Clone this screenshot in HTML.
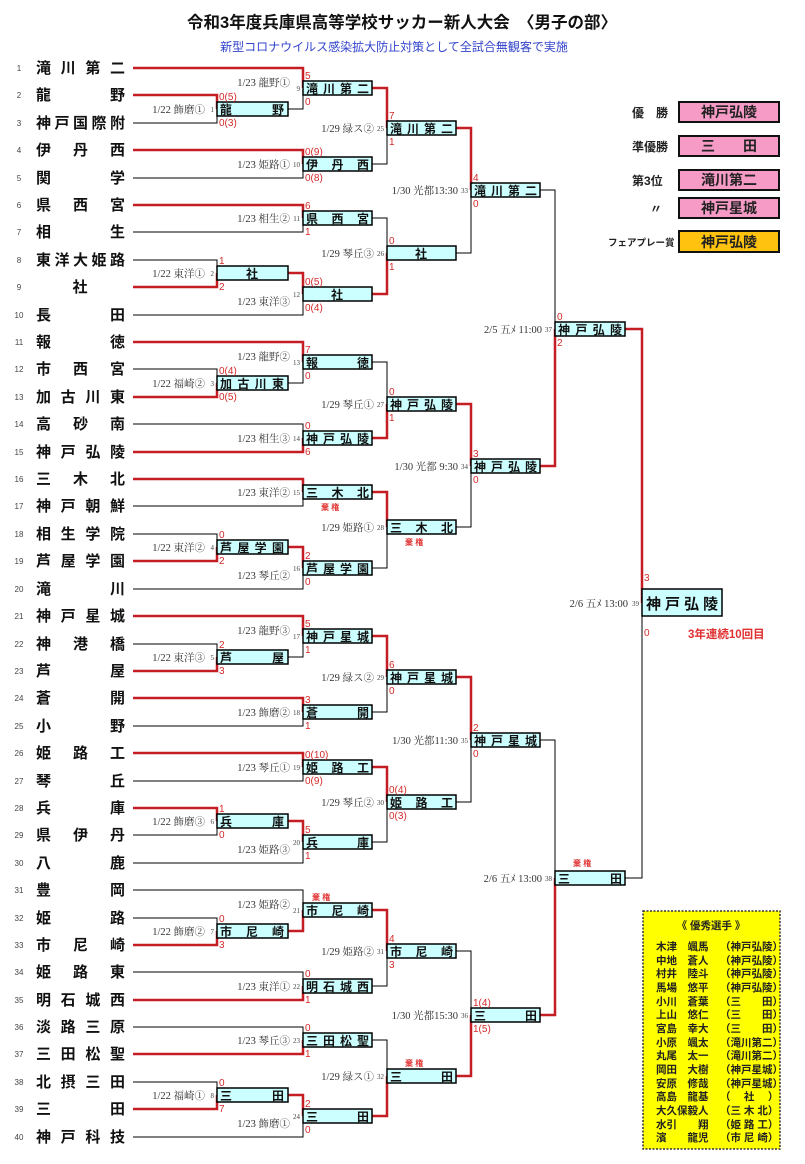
<!DOCTYPE html>
<html><head><meta charset="utf-8"><style>
html,body{margin:0;padding:0;background:#fff;}
svg{display:block;}
.tm{font-family:"Liberation Sans","Noto Sans CJK JP",sans-serif;font-weight:bold;font-size:15px;fill:#111;}
.bx{font-family:"Liberation Sans","Noto Sans CJK JP",sans-serif;font-weight:bold;font-size:12px;fill:#111;}
.no{font-family:"Liberation Sans",sans-serif;font-size:8px;fill:#444;}
.dt{font-family:"Liberation Serif","Noto Serif CJK SC",serif;font-size:10.5px;fill:#333;text-anchor:end;}
.mn{font-family:"Liberation Serif",serif;font-size:7px;fill:#444;text-anchor:end;}
.sc{font-family:"Liberation Sans",sans-serif;font-size:10px;fill:#d42a2a;}
.kk{font-family:"Liberation Sans","Noto Sans CJK JP",sans-serif;font-size:8px;font-weight:bold;fill:#e03030;}
rect.b{fill:#ccffff;stroke:#000;stroke-width:1.5;}
</style></head><body>
<svg width="805" height="1164" viewBox="0 0 805 1164" xmlns="http://www.w3.org/2000/svg">
<text x="402" y="28" text-anchor="middle" style="font-family:'Liberation Sans','Noto Sans CJK JP',sans-serif;font-weight:bold;font-size:16.5px;fill:#111">令和3年度兵庫県高等学校サッカー新人大会　〈男子の部〉</text>
<text x="394" y="51" text-anchor="middle" style="font-family:'Liberation Sans','Noto Sans CJK JP',sans-serif;font-size:12px;fill:#3344cc">新型コロナウイルス感染拡大防止対策として全試合無観客で実施</text>

<g fill="none" stroke="#000" stroke-width="1">
<path d="M133 123H217V109M133 260H217V273M133 369H217V383M133 534H217V547M133 644H217V657M133 835H217V821M133 918H217V931M133 1082H217V1095"/>
<path d="M133 178H303V164M133 232H303V218M133 315H303V294M133 424H303V438M133 506H303V492M133 589H303V568M133 726H303V712M133 781H303V767M133 863H303V842M133 890H303V910M133 972H303V986M133 1027H303V1040M133 1137H303V1116"/>
<path d="M288 109H303V88M288 383H303V362M288 657H303V636"/>
<path d="M372 164H387V128M372 218H387V253M372 362H387V404M372 568H387V527M372 712H387V677M372 842H387V802M372 986H387V951M372 1040H387V1076"/>
<path d="M456 253H471V190M456 527H471V466M456 802H471V740M456 951H471V1015"/>
<path d="M540 190H555V329M540 740H555V878M625 878H642V603"/>
</g>
<g fill="none" stroke="#c41e24" stroke-width="2.5">
<path d="M133 68H303V88M133 95H217V109M133 150H303V164M133 205H303V218M133 287H217V273M288 273H303V294M133 342H303V362M133 397H217V383M133 452H303V438M133 479H303V492M133 561H217V547M288 547H303V568M133 616H303V636M133 671H217V657M133 698H303V712M133 753H303V767M133 808H217V821M288 821H303V842M288 931H303V910M133 945H217V931M133 1000H303V986M133 1054H303V1040M133 1109H217V1095M288 1095H303V1116"/>
<path d="M372 88H387V128M372 294H387V253M372 438H387V404M372 492H387V527M372 636H387V677M372 767H387V802M372 910H387V951M372 1116H387V1076"/>
<path d="M456 128H471V190M456 404H471V466M456 677H471V740M456 1076H471V1015M540 466H555V329M540 1015H555V878M625 329H642V603"/>
</g>

<!-- team names -->
<g class="no" text-anchor="middle">
<text x="19" y="71">1</text><text x="19" y="98">2</text><text x="19" y="126">3</text><text x="19" y="153">4</text><text x="19" y="181">5</text><text x="19" y="208">6</text><text x="19" y="235">7</text><text x="19" y="263">8</text><text x="19" y="290">9</text><text x="19" y="318">10</text>
<text x="19" y="345">11</text><text x="19" y="372">12</text><text x="19" y="400">13</text><text x="19" y="427">14</text><text x="19" y="455">15</text><text x="19" y="482">16</text><text x="19" y="509">17</text><text x="19" y="537">18</text><text x="19" y="564">19</text><text x="19" y="592">20</text>
<text x="19" y="619">21</text><text x="19" y="647">22</text><text x="19" y="674">23</text><text x="19" y="701">24</text><text x="19" y="729">25</text><text x="19" y="756">26</text><text x="19" y="784">27</text><text x="19" y="811">28</text><text x="19" y="838">29</text><text x="19" y="866">30</text>
<text x="19" y="893">31</text><text x="19" y="921">32</text><text x="19" y="948">33</text><text x="19" y="975">34</text><text x="19" y="1003">35</text><text x="19" y="1030">36</text><text x="19" y="1057">37</text><text x="19" y="1085">38</text><text x="19" y="1112">39</text><text x="19" y="1140">40</text>
</g>
<g class="tm" lengthAdjust="spacing">
<text x="36" y="73" textLength="89">滝川第二</text>
<text x="36" y="100" textLength="89">龍野</text>
<text x="36" y="128" textLength="89">神戸国際附</text>
<text x="36" y="155" textLength="89">伊丹西</text>
<text x="36" y="183" textLength="89">関学</text>
<text x="36" y="210" textLength="89">県西宮</text>
<text x="36" y="237" textLength="89">相生</text>
<text x="36" y="265" textLength="89">東洋大姫路</text>
<text x="80" y="292" text-anchor="middle">社</text>
<text x="36" y="320" textLength="89">長田</text>
<text x="36" y="347" textLength="89">報徳</text>
<text x="36" y="374" textLength="89">市西宮</text>
<text x="36" y="402" textLength="89">加古川東</text>
<text x="36" y="429" textLength="89">高砂南</text>
<text x="36" y="457" textLength="89">神戸弘陵</text>
<text x="36" y="484" textLength="89">三木北</text>
<text x="36" y="511" textLength="89">神戸朝鮮</text>
<text x="36" y="539" textLength="89">相生学院</text>
<text x="36" y="566" textLength="89">芦屋学園</text>
<text x="36" y="594" textLength="89">滝川</text>
<text x="36" y="621" textLength="89">神戸星城</text>
<text x="36" y="649" textLength="89">神港橋</text>
<text x="36" y="676" textLength="89">芦屋</text>
<text x="36" y="703" textLength="89">蒼開</text>
<text x="36" y="731" textLength="89">小野</text>
<text x="36" y="758" textLength="89">姫路工</text>
<text x="36" y="786" textLength="89">琴丘</text>
<text x="36" y="813" textLength="89">兵庫</text>
<text x="36" y="840" textLength="89">県伊丹</text>
<text x="36" y="868" textLength="89">八鹿</text>
<text x="36" y="895" textLength="89">豊岡</text>
<text x="36" y="923" textLength="89">姫路</text>
<text x="36" y="950" textLength="89">市尼崎</text>
<text x="36" y="977" textLength="89">姫路東</text>
<text x="36" y="1005" textLength="89">明石城西</text>
<text x="36" y="1032" textLength="89">淡路三原</text>
<text x="36" y="1059" textLength="89">三田松聖</text>
<text x="36" y="1087" textLength="89">北摂三田</text>
<text x="36" y="1114" textLength="89">三田</text>
<text x="36" y="1142" textLength="89">神戸科技</text>
</g>

<!-- boxes -->
<g>
<rect class="b" x="217" y="102" width="71" height="14"/><rect class="b" x="217" y="266" width="71" height="14"/><rect class="b" x="217" y="376" width="71" height="14"/><rect class="b" x="217" y="540" width="71" height="14"/><rect class="b" x="217" y="650" width="71" height="14"/><rect class="b" x="217" y="814" width="71" height="14"/><rect class="b" x="217" y="924" width="71" height="14"/><rect class="b" x="217" y="1088" width="71" height="14"/>
<rect class="b" x="303" y="81" width="69" height="14"/><rect class="b" x="303" y="157" width="69" height="14"/><rect class="b" x="303" y="211" width="69" height="14"/><rect class="b" x="303" y="287" width="69" height="14"/><rect class="b" x="303" y="355" width="69" height="14"/><rect class="b" x="303" y="431" width="69" height="14"/><rect class="b" x="303" y="485" width="69" height="14"/><rect class="b" x="303" y="561" width="69" height="14"/>
<rect class="b" x="303" y="629" width="69" height="14"/><rect class="b" x="303" y="705" width="69" height="14"/><rect class="b" x="303" y="760" width="69" height="14"/><rect class="b" x="303" y="835" width="69" height="14"/><rect class="b" x="303" y="903" width="69" height="14"/><rect class="b" x="303" y="979" width="69" height="14"/><rect class="b" x="303" y="1033" width="69" height="14"/><rect class="b" x="303" y="1109" width="69" height="14"/>
<rect class="b" x="387" y="121" width="69" height="14"/><rect class="b" x="387" y="246" width="69" height="14"/><rect class="b" x="387" y="397" width="69" height="14"/><rect class="b" x="387" y="520" width="69" height="14"/><rect class="b" x="387" y="670" width="69" height="14"/><rect class="b" x="387" y="795" width="69" height="14"/><rect class="b" x="387" y="944" width="69" height="14"/><rect class="b" x="387" y="1069" width="69" height="14"/>
<rect class="b" x="471" y="183" width="69" height="14"/><rect class="b" x="471" y="459" width="69" height="14"/><rect class="b" x="471" y="733" width="69" height="14"/><rect class="b" x="471" y="1008" width="69" height="14"/>
<rect class="b" x="555" y="322" width="70" height="14"/><rect class="b" x="555" y="871" width="70" height="14"/>
<rect class="b" x="642" y="589" width="80" height="27"/>
</g>
<g class="bx" lengthAdjust="spacing">
<text x="220" y="114" textLength="64">龍野</text>
<text x="252" y="278" text-anchor="middle">社</text>
<text x="220" y="388" textLength="64">加古川東</text>
<text x="220" y="552" textLength="64">芦屋学園</text>
<text x="220" y="662" textLength="64">芦屋</text>
<text x="220" y="826" textLength="64">兵庫</text>
<text x="220" y="936" textLength="64">市尼崎</text>
<text x="220" y="1100" textLength="64">三田</text>
<text x="306" y="93" textLength="63">滝川第二</text>
<text x="306" y="169" textLength="63">伊丹西</text>
<text x="306" y="223" textLength="63">県西宮</text>
<text x="337" y="299" text-anchor="middle">社</text>
<text x="306" y="367" textLength="63">報徳</text>
<text x="306" y="443" textLength="63">神戸弘陵</text>
<text x="306" y="497" textLength="63">三木北</text>
<text x="306" y="573" textLength="63">芦屋学園</text>
<text x="306" y="641" textLength="63">神戸星城</text>
<text x="306" y="717" textLength="63">蒼開</text>
<text x="306" y="772" textLength="63">姫路工</text>
<text x="306" y="847" textLength="63">兵庫</text>
<text x="306" y="915" textLength="63">市尼崎</text>
<text x="306" y="991" textLength="63">明石城西</text>
<text x="306" y="1045" textLength="63">三田松聖</text>
<text x="306" y="1121" textLength="63">三田</text>
<text x="390" y="133" textLength="63">滝川第二</text>
<text x="421" y="258" text-anchor="middle">社</text>
<text x="390" y="409" textLength="63">神戸弘陵</text>
<text x="390" y="532" textLength="63">三木北</text>
<text x="390" y="682" textLength="63">神戸星城</text>
<text x="390" y="807" textLength="63">姫路工</text>
<text x="390" y="956" textLength="63">市尼崎</text>
<text x="390" y="1081" textLength="63">三田</text>
<text x="474" y="195" textLength="63">滝川第二</text>
<text x="474" y="471" textLength="63">神戸弘陵</text>
<text x="474" y="745" textLength="63">神戸星城</text>
<text x="474" y="1020" textLength="63">三田</text>
<text x="558" y="334" textLength="64">神戸弘陵</text>
<text x="558" y="883" textLength="64">三田</text>
<text x="646" y="609" textLength="72" style="font-size:15px">神戸弘陵</text>
</g>

<!-- date labels -->
<g class="dt">
<text x="205" y="113">1/22 飾磨①</text><text x="205" y="277">1/22 東洋①</text><text x="205" y="387">1/22 福崎②</text><text x="205" y="551">1/22 東洋②</text><text x="205" y="661">1/22 東洋③</text><text x="205" y="825">1/22 飾磨③</text><text x="205" y="935">1/22 飾磨②</text><text x="205" y="1099">1/22 福崎①</text>
<text x="290" y="86">1/23 龍野①</text><text x="290" y="168">1/23 姫路①</text><text x="290" y="222">1/23 相生②</text><text x="290" y="305">1/23 東洋③</text><text x="290" y="360">1/23 龍野②</text><text x="290" y="442">1/23 相生③</text><text x="290" y="496">1/23 東洋②</text><text x="290" y="579">1/23 琴丘②</text>
<text x="290" y="634">1/23 龍野③</text><text x="290" y="716">1/23 飾磨②</text><text x="290" y="771">1/23 琴丘①</text><text x="290" y="853">1/23 姫路③</text><text x="290" y="908">1/23 姫路②</text><text x="290" y="990">1/23 東洋①</text><text x="290" y="1044">1/23 琴丘③</text><text x="290" y="1127">1/23 飾磨①</text>
<text x="374" y="132">1/29 緑ス②</text><text x="374" y="257">1/29 琴丘③</text><text x="374" y="408">1/29 琴丘①</text><text x="374" y="531">1/29 姫路①</text><text x="374" y="681">1/29 緑ス②</text><text x="374" y="806">1/29 琴丘②</text><text x="374" y="955">1/29 姫路②</text><text x="374" y="1080">1/29 緑ス①</text>
<text x="458" y="194">1/30 光都13:30</text><text x="458" y="470">1/30 光都 9:30</text><text x="458" y="744">1/30 光都11:30</text><text x="458" y="1019">1/30 光都15:30</text>
<text x="542" y="333">2/5 五ﾒ 11:00</text><text x="542" y="882">2/6 五ﾒ 13:00</text><text x="628" y="607">2/6 五ﾒ 13:00</text>
</g>
<g class="mn">
<text x="214" y="112">1</text><text x="214" y="276">2</text><text x="214" y="386">3</text><text x="214" y="550">4</text><text x="214" y="660">5</text><text x="214" y="824">6</text><text x="214" y="934">7</text><text x="214" y="1098">8</text>
<text x="300" y="91">9</text><text x="300" y="167">10</text><text x="300" y="221">11</text><text x="300" y="297">12</text><text x="300" y="365">13</text><text x="300" y="441">14</text><text x="300" y="495">15</text><text x="300" y="571">16</text>
<text x="300" y="639">17</text><text x="300" y="715">18</text><text x="300" y="770">19</text><text x="300" y="845">20</text><text x="300" y="913">21</text><text x="300" y="989">22</text><text x="300" y="1043">23</text><text x="300" y="1119">24</text>
<text x="384" y="131">25</text><text x="384" y="256">26</text><text x="384" y="407">27</text><text x="384" y="530">28</text><text x="384" y="680">29</text><text x="384" y="805">30</text><text x="384" y="954">31</text><text x="384" y="1079">32</text>
<text x="468" y="193">33</text><text x="468" y="469">34</text><text x="468" y="743">35</text><text x="468" y="1018">36</text>
<text x="552" y="332">37</text><text x="552" y="881">38</text><text x="639" y="606">39</text>
</g>

<!-- scores -->
<g class="sc">
<text x="219" y="100">0(5)</text><text x="219" y="126">0(3)</text>
<text x="219" y="264">1</text><text x="219" y="290">2</text>
<text x="219" y="374">0(4)</text><text x="219" y="400">0(5)</text>
<text x="219" y="538">0</text><text x="219" y="564">2</text>
<text x="219" y="648">2</text><text x="219" y="674">3</text>
<text x="219" y="812">1</text><text x="219" y="838">0</text>
<text x="219" y="922">0</text><text x="219" y="948">3</text>
<text x="219" y="1086">0</text><text x="219" y="1112">7</text>
<text x="305" y="79">5</text><text x="305" y="105">0</text>
<text x="305" y="155">0(9)</text><text x="305" y="181">0(8)</text>
<text x="305" y="209">6</text><text x="305" y="235">1</text>
<text x="305" y="285">0(5)</text><text x="305" y="311">0(4)</text>
<text x="305" y="353">7</text><text x="305" y="379">0</text>
<text x="305" y="429">0</text><text x="305" y="455">6</text>
<text x="305" y="559">2</text><text x="305" y="585">0</text>
<text x="305" y="627">5</text><text x="305" y="653">1</text>
<text x="305" y="703">3</text><text x="305" y="729">1</text>
<text x="305" y="758">0(10)</text><text x="305" y="784">0(9)</text>
<text x="305" y="833">5</text><text x="305" y="859">1</text>
<text x="305" y="977">0</text><text x="305" y="1003">1</text>
<text x="305" y="1031">0</text><text x="305" y="1057">1</text>
<text x="305" y="1107">2</text><text x="305" y="1133">0</text>
<text x="389" y="119">7</text><text x="389" y="145">1</text>
<text x="389" y="244">0</text><text x="389" y="270">1</text>
<text x="389" y="395">0</text><text x="389" y="421">1</text>
<text x="389" y="668">6</text><text x="389" y="694">0</text>
<text x="389" y="793">0(4)</text><text x="389" y="819">0(3)</text>
<text x="389" y="942">4</text><text x="389" y="968">3</text>
<text x="473" y="181">4</text><text x="473" y="207">0</text>
<text x="473" y="457">3</text><text x="473" y="483">0</text>
<text x="473" y="731">2</text><text x="473" y="757">0</text>
<text x="473" y="1006">1(4)</text><text x="473" y="1032">1(5)</text>
<text x="557" y="320">0</text><text x="557" y="346">2</text>
<text x="644" y="581">3</text><text x="644" y="636">0</text>
</g>
<g class="kk">
<text x="321" y="510">棄 権</text><text x="312" y="900">棄 権</text>
<text x="405" y="545">棄 権</text><text x="405" y="1066">棄 権</text>
<text x="573" y="866">棄 権</text>
</g>
<text x="688" y="638" style="font-family:'Liberation Sans','Noto Sans CJK JP',sans-serif;font-weight:bold;font-size:11.5px;fill:#e03030">3年連続10回目</text>

<!-- awards -->
<g style="font-family:'Liberation Sans','Noto Sans CJK JP',sans-serif;font-weight:bold;font-size:12px;fill:#222">
<text x="632" y="117">優　勝</text>
<text x="632" y="151">準優勝</text>
<text x="632" y="185">第3位</text>
<text x="650" y="213">〃</text>
<text x="608" y="246" style="font-size:9.5px">フェアプレー賞</text>
</g>
<g stroke="#111" stroke-width="2">
<rect x="679" y="102" width="100" height="20" fill="#f59bc6"/>
<rect x="679" y="136" width="100" height="20" fill="#f59bc6"/>
<rect x="679" y="170" width="100" height="20" fill="#f59bc6"/>
<rect x="679" y="198" width="100" height="20" fill="#f59bc6"/>
<rect x="679" y="231" width="100" height="21" fill="#ffc20e"/>
</g>
<g style="font-family:'Liberation Sans','Noto Sans CJK JP',sans-serif;font-weight:bold;font-size:14px;fill:#222" text-anchor="middle">
<text x="729" y="117">神戸弘陵</text>
<text x="729" y="151">三　　田</text>
<text x="729" y="185">滝川第二</text>
<text x="729" y="213">神戸星城</text>
<text x="729" y="247">神戸弘陵</text>
</g>

<!-- best players -->
<rect x="643" y="911" width="137" height="238" fill="#ffff00" stroke="#333" stroke-width="1.5" stroke-dasharray="2,1.5"/>
<g style="font-family:'Liberation Sans','Noto Sans CJK JP',sans-serif;font-weight:bold;font-size:10.5px;fill:#222">
<text x="711" y="929" text-anchor="middle">《 優秀選手 》</text>
<text x="656" y="950">木津　颯馬</text><text x="720" y="950">（神戸弘陵）</text>
<text x="656" y="964">中地　蒼人</text><text x="720" y="964">（神戸弘陵）</text>
<text x="656" y="977">村井　陸斗</text><text x="720" y="977">（神戸弘陵）</text>
<text x="656" y="991">馬場　悠平</text><text x="720" y="991">（神戸弘陵）</text>
<text x="656" y="1005">小川　蒼葉</text><text x="720" y="1005">（三　　田）</text>
<text x="656" y="1018">上山　悠仁</text><text x="720" y="1018">（三　　田）</text>
<text x="656" y="1032">宮島　幸大</text><text x="720" y="1032">（三　　田）</text>
<text x="656" y="1046">小原　颯太</text><text x="720" y="1046">（滝川第二）</text>
<text x="656" y="1059">丸尾　太一</text><text x="720" y="1059">（滝川第二）</text>
<text x="656" y="1073">岡田　大樹</text><text x="720" y="1073">（神戸星城）</text>
<text x="656" y="1087">安原　修哉</text><text x="720" y="1087">（神戸星城）</text>
<text x="656" y="1100">高島　龍基</text><text x="720" y="1100">（　 社 　）</text>
<text x="656" y="1114">大久保毅人</text><text x="720" y="1114">（三 木 北）</text>
<text x="656" y="1128">水引　　翔</text><text x="720" y="1128">（姫 路 工）</text>
<text x="656" y="1141">濱　　龍児</text><text x="720" y="1141">（市 尼 崎）</text>
</g>
</svg>
</body></html>
